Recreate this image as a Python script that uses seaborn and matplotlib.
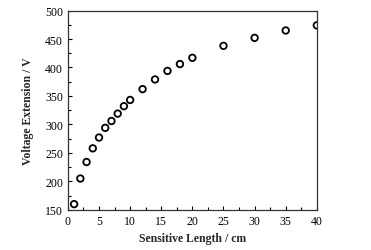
import matplotlib
matplotlib.use("Agg")
import matplotlib.pyplot as plt
import seaborn as sns
import pandas as pd
from matplotlib.ticker import MultipleLocator

length_cm = [1, 2, 3, 4, 5, 6, 7, 8, 9, 10, 12, 14, 16, 18, 20, 25, 30, 35, 40]
voltage_v = [160, 205, 234, 258, 277, 294, 306, 319, 332, 343, 362, 379, 394, 406, 417, 438, 452, 465, 474]

df = pd.DataFrame({"Sensitive Length / cm": length_cm, "Voltage Extension / V": voltage_v})

sns.set_style("ticks")
plt.rcParams['font.family'] = ['Liberation Serif', 'DejaVu Serif']

fig = plt.figure(figsize=(3.71, 2.51), dpi=100)
ax = fig.add_axes([0.183, 0.16, 0.671, 0.794])
sns.scatterplot(data=df, x="Sensitive Length / cm", y="Voltage Extension / V", ax=ax,
                marker="o", s=22, facecolor="none", edgecolor="black", linewidth=1.3)
ax.set_xlim(0, 40)
ax.set_ylim(150, 500)
ax.xaxis.set_major_locator(MultipleLocator(5))
ax.xaxis.set_minor_locator(MultipleLocator(2.5))
ax.yaxis.set_major_locator(MultipleLocator(50))
ax.yaxis.set_minor_locator(MultipleLocator(25))
ax.tick_params(which="both", direction="in", top=False, right=False, labelsize=8.5, colors="black")
ax.tick_params(which="major", length=3, width=0.8)
ax.tick_params(which="minor", length=2, width=0.8)
for s in ax.spines.values():
    s.set_linewidth(0.9)
    s.set_color("#333333")
ax.set_xlabel("Sensitive Length / cm", fontsize=8.5, fontweight="bold", labelpad=4)
ax.set_ylabel("Voltage Extension / V", fontsize=8.5, fontweight="bold", labelpad=8)
fig.savefig("out.png", dpi=100)
